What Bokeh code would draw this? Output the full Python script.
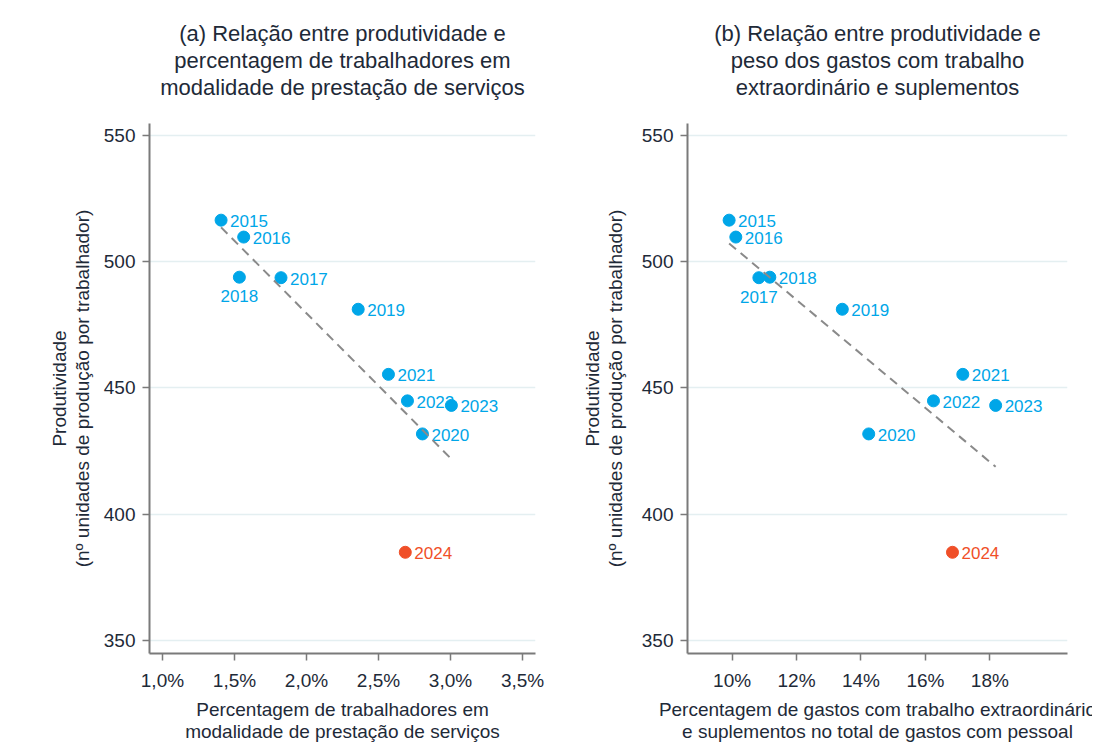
import numpy as np
from bokeh.plotting import figure
from bokeh.models import ColumnDataSource, Range1d, FixedTicker, Title
from bokeh.layouts import row
from bokeh.embed import file_html
from bokeh.resources import INLINE
from bokeh.core.properties import value

# ---------------- data ----------------
years = [2015, 2016, 2017, 2018, 2019, 2020, 2021, 2022, 2023, 2024]
productivity = [516.5, 509.8, 493.7, 493.9, 481.2, 431.8, 455.4, 444.9, 443.1, 384.9]
pct_service_workers = [1.407, 1.564, 1.823, 1.534, 2.359, 2.805, 2.569, 2.701, 3.006, 2.686]
pct_overtime_costs = [9.907, 10.115, 10.83, 11.17, 13.42, 14.24, 17.16, 16.25, 18.18, 16.84]
highlight_years = [2024]
labels_below_a = [2018]
labels_below_b = [2017]

y_ticks = [350, 400, 450, 500, 550]
x_ticks_a = [1.0, 1.5, 2.0, 2.5, 3.0, 3.5]
x_tick_labels_a = ["1,0%", "1,5%", "2,0%", "2,5%", "3,0%", "3,5%"]
x_ticks_b = [10, 12, 14, 16, 18]
x_tick_labels_b = ["10%", "12%", "14%", "16%", "18%"]

title_a = ["(a) Relação entre produtividade e",
           "percentagem de trabalhadores em",
           "modalidade de prestação de serviços"]
title_b = ["(b) Relação entre produtividade e",
           "peso dos gastos com trabalho",
           "extraordinário e suplementos"]
xlabel_a = "Percentagem de trabalhadores em\nmodalidade de prestação de serviços"
xlabel_b = "Percentagem de gastos com trabalho extraordinário\ne suplementos no total de gastos com pessoal"
ylabel = "Produtividade\n(nº unidades de produção por trabalhador)"

# ---------------- style ----------------
BLUE = "#00a6e8"
RED = "#f04f28"
TEXT = "#1e2a38"
AXIS = "#7a7a7a"
FONT = "Liberation Sans"


def make_panel(xvals, title_lines, xlabel, xr, ticks, tick_labels, below_years,
               width, bl, br, ylab_standoff):
    p = figure(width=width, height=746, output_backend="svg", toolbar_location=None,
               x_range=Range1d(*xr), y_range=Range1d(344.8, 554.8),
               min_border_left=bl, min_border_right=br, min_border_top=123,
               min_border_bottom=93)
    p.outline_line_color = None
    p.background_fill_color = "white"
    p.border_fill_color = "white"
    p.xgrid.visible = False
    p.ygrid.grid_line_color = "#e4eff1"
    p.ygrid.grid_line_width = 1.5

    p.xaxis.ticker = FixedTicker(ticks=ticks)
    p.xaxis.major_label_overrides = {t: l for t, l in zip(ticks, tick_labels)}
    p.yaxis.ticker = FixedTicker(ticks=y_ticks)
    for ax in (p.xaxis, p.yaxis):
        ax.axis_line_color = AXIS
        ax.axis_line_width = 2
        ax.major_tick_line_color = AXIS
        ax.major_tick_line_width = 1.5
        ax.major_tick_out = 7
        ax.major_tick_in = 0
        ax.minor_tick_line_color = None
        ax.major_label_text_font = FONT
        ax.major_label_text_font_size = "19px"
        ax.major_label_text_color = TEXT
        ax.axis_label_text_font = FONT
        ax.axis_label_text_font_size = "19px"
        ax.axis_label_text_font_style = "normal"
        ax.axis_label_text_color = TEXT
    p.xaxis.axis_label = xlabel
    p.xaxis.axis_label_text_line_height = 1.05
    p.yaxis.axis_label_text_line_height = 1.1
    p.xaxis.axis_label_standoff = 5
    p.xaxis.major_label_standoff = 9
    p.yaxis.axis_label = ylabel
    p.yaxis.axis_label_standoff = ylab_standoff
    p.yaxis.major_label_standoff = 7

    # titles: spacer closest to frame, then the lines outward
    p.add_layout(Title(text=" ", text_font_size="20px", standoff=0), "above")
    for line in reversed(title_lines):
        p.add_layout(Title(text=line, align="center", text_font=FONT,
                           text_font_size="22px", text_font_style="normal",
                           text_color=TEXT, standoff=0, text_line_height=1.0), "above")

    colors = [RED if y in highlight_years else BLUE for y in years]
    right_idx = [i for i, y in enumerate(years) if y not in below_years]
    below_idx = [i for i, y in enumerate(years) if y in below_years]

    def sub(idx):
        return ColumnDataSource(dict(x=[xvals[i] for i in idx],
                                     y=[productivity[i] for i in idx],
                                     t=[str(years[i]) for i in idx],
                                     c=[colors[i] for i in idx]))
    p.text("x", "y", text="t", source=sub(right_idx), text_color="c", x_offset=9,
           y_offset=1, text_align="left", text_baseline="middle",
           text_font=value(FONT), text_font_size="17px")
    p.text("x", "y", text="t", source=sub(below_idx), text_color="c", x_offset=0,
           y_offset=19, text_align="center", text_baseline="middle",
           text_font=value(FONT), text_font_size="17px")

    src = ColumnDataSource(dict(x=xvals, y=productivity, c=colors))
    p.scatter("x", "y", source=src, size=12, fill_color="c", line_color="c")

    # trend line (OLS on all points)
    xs = np.array(xvals, dtype=float)
    ys = np.array(productivity, dtype=float)
    slope, intercept = np.polyfit(xs, ys, 1)
    lx = [xs.min(), xs.max()]
    ly = [intercept + slope * v for v in lx]
    p.line(lx, ly, line_color="#8a8a8a", line_width=2, line_dash="9 6")
    return p


pa = make_panel(pct_service_workers, title_a, xlabel_a, (0.91, 3.59),
                x_ticks_a, x_tick_labels_a, labels_below_a, 552, 149, 17, 8)
pb = make_panel(pct_overtime_costs, title_b, xlabel_b, (8.615, 20.41),
                x_ticks_b, x_tick_labels_b, labels_below_b, 540, 135, 25, 13)

layout = row(pa, pb)
open("out.html", "w").write(file_html(layout, INLINE))
